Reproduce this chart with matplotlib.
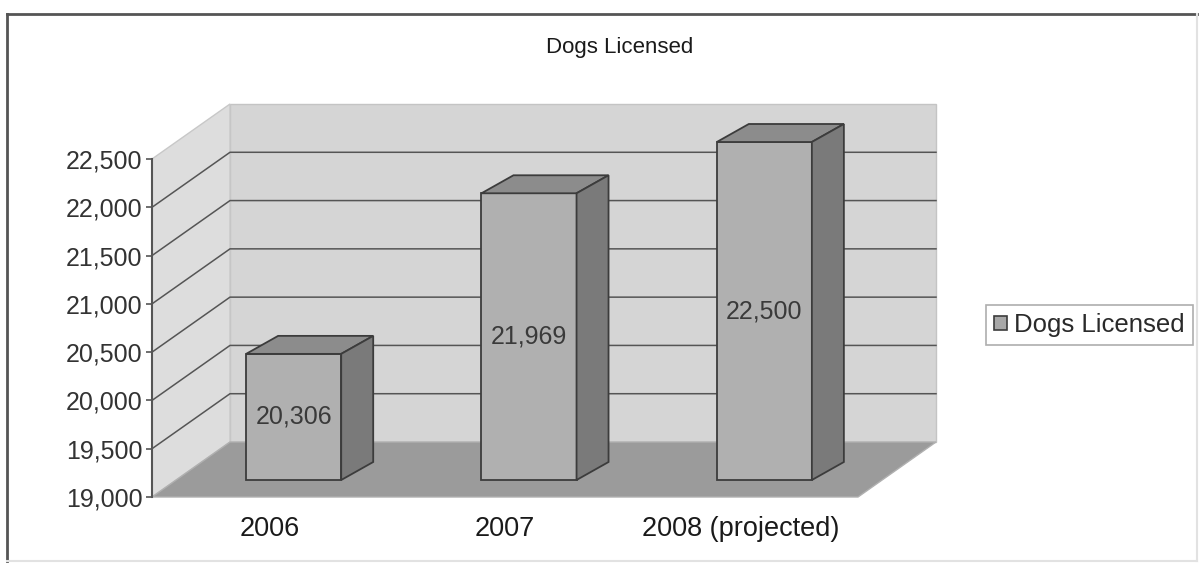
import matplotlib
matplotlib.use('Agg')
import numpy as np
from matplotlib import pyplot as plt
from matplotlib.patches import Polygon, Rectangle
from matplotlib.ticker import FuncFormatter

# Данные
years = ['2006', '2007', '2008 (projected)']
licensed = [20306, 21969, 22500]
y_ticks = [19000, 19500, 20000, 20500, 21000, 21500, 22000, 22500]

plt.rcParams['font.family'] = ['Liberation Sans', 'DejaVu Sans']

W, H = 1201, 565
fig = plt.figure(figsize=(W / 100, H / 100), dpi=100)
ax = fig.add_axes([152 / W, 68 / H, 706 / W, 338 / H])
ax.set_xlim(-0.5, 2.5)
ax.set_ylim(19000, 22500)
ax.patch.set_visible(False)

# пересчёт пикселей в единицы данных (для псевдо-3D)
px_x = 3 / 706
px_y = 3500 / 338
wall_dx, wall_dy = 78 * px_x, 55 * px_y      # глубина стенки
bar_dx, bar_dy = 24 * px_x, 17 * px_y        # сдвиг плоскости столбиков
dep_dx, dep_dy = 32 * px_x, 18 * px_y        # глубина столбика
bar_w = 0.404
y0, y1 = 19000, 22500
x0, x1 = -0.5, 2.5

wall_c = '#d5d5d5'
side_wall_c = '#dddddd'
floor_c = '#9b9b9b'
grid_c = '#555555'

# задняя стенка
ax.add_patch(Polygon([(x0 + wall_dx, y0 + wall_dy), (x1 + wall_dx, y0 + wall_dy),
                      (x1 + wall_dx, y1 + wall_dy), (x0 + wall_dx, y1 + wall_dy)],
                     closed=True, fc=wall_c, ec='#c4c4c4', lw=1, clip_on=False, zorder=1))
# левая стенка
ax.add_patch(Polygon([(x0, y0), (x0 + wall_dx, y0 + wall_dy),
                      (x0 + wall_dx, y1 + wall_dy), (x0, y1)],
                     closed=True, fc=side_wall_c, ec='#c8c8c8', lw=1, clip_on=False, zorder=1))
# пол
ax.add_patch(Polygon([(x0, y0), (x1, y0), (x1 + wall_dx, y0 + wall_dy), (x0 + wall_dx, y0 + wall_dy)],
                     closed=True, fc=floor_c, ec='#b0b0b0', lw=1, clip_on=False, zorder=2))

# линии сетки
for v in y_ticks[1:-1]:
    ax.plot([x0, x0 + wall_dx, x1 + wall_dx], [v, v + wall_dy, v + wall_dy],
            color=grid_c, lw=1.1, clip_on=False, zorder=1.5)

# столбики: передняя грань через ax.bar, верх и бок — многоугольники
xs = np.arange(len(years))
vals = np.array(licensed)
ax.bar(xs + bar_dx, vals - y0, bottom=y0 + bar_dy, width=bar_w,
       color='#b0b0b0', edgecolor='#3c3c3c', linewidth=1.3, zorder=4, clip_on=False)
for x, v in zip(xs, vals):
    l, r = x + bar_dx - bar_w / 2, x + bar_dx + bar_w / 2
    b, t = y0 + bar_dy, v + bar_dy
    ax.add_patch(Polygon([(l, t), (l + dep_dx, t + dep_dy), (r + dep_dx, t + dep_dy), (r, t)],
                         closed=True, fc='#8c8c8c', ec='#3c3c3c', lw=1.3, clip_on=False, zorder=4))
    ax.add_patch(Polygon([(r, b), (r + dep_dx, b + dep_dy), (r + dep_dx, t + dep_dy), (r, t)],
                         closed=True, fc='#7a7a7a', ec='#3c3c3c', lw=1.3, clip_on=False, zorder=4))
    ax.text(x + bar_dx, (b + t) / 2, f'{v:,}', ha='center', va='center',
            fontsize=18, color='#3a3a3a', zorder=5)

# оси
for s in ['top', 'right', 'bottom']:
    ax.spines[s].set_visible(False)
ax.spines['left'].set_color('#555555')
ax.spines['left'].set_linewidth(1.5)
ax.set_yticks(y_ticks)
ax.yaxis.set_major_formatter(FuncFormatter(lambda v, p: f'{int(v):,}'))
ax.tick_params(axis='y', length=4, width=1.2, color='#555555', labelsize=18,
               labelcolor='#333333', pad=3)
ax.set_xticks(xs)
ax.set_xticklabels(years)
ax.tick_params(axis='x', length=0, labelsize=19.5, labelcolor='#1a1a1a', pad=14)

# заголовок
fig.text(620 / W, 1 - 47 / H, 'Dogs Licensed', ha='center', va='center',
         fontsize=16, color='#1a1a1a')

# легенда
handle = Rectangle((0, 0), 1, 1, fc='#a8a8a8', ec='#3c3c3c', lw=1.2)
leg = fig.legend([handle], ['Dogs Licensed'], loc='center left',
                 bbox_to_anchor=(986 / W, 1 - 325 / H), bbox_transform=fig.transFigure,
                 fontsize=18.5, frameon=True, fancybox=False, handlelength=0.5,
                 handleheight=0.5, handletextpad=0.3, borderpad=0.3, borderaxespad=0)
leg.get_frame().set_edgecolor('#9a9a9a')
leg.get_frame().set_linewidth(1.2)
for t in leg.get_texts():
    t.set_color('#2a2a2a')

# рамка вокруг диаграммы
fig.add_artist(plt.Line2D([7 / W, 7 / W], [1 - 561 / H, 1 - 14 / H], color='#555555', lw=2,
                          transform=fig.transFigure))
fig.add_artist(plt.Line2D([7 / W, 1197 / W], [1 - 14 / H, 1 - 14 / H], color='#555555', lw=2,
                          transform=fig.transFigure))
fig.add_artist(plt.Line2D([1197 / W, 1197 / W], [1 - 561 / H, 1 - 14 / H], color='#e2e2e2', lw=1.5,
                          transform=fig.transFigure))
fig.add_artist(plt.Line2D([7 / W, 1197 / W], [1 - 561 / H, 1 - 561 / H], color='#e2e2e2', lw=1.5,
                          transform=fig.transFigure))

fig.savefig('out.png', dpi=100)
